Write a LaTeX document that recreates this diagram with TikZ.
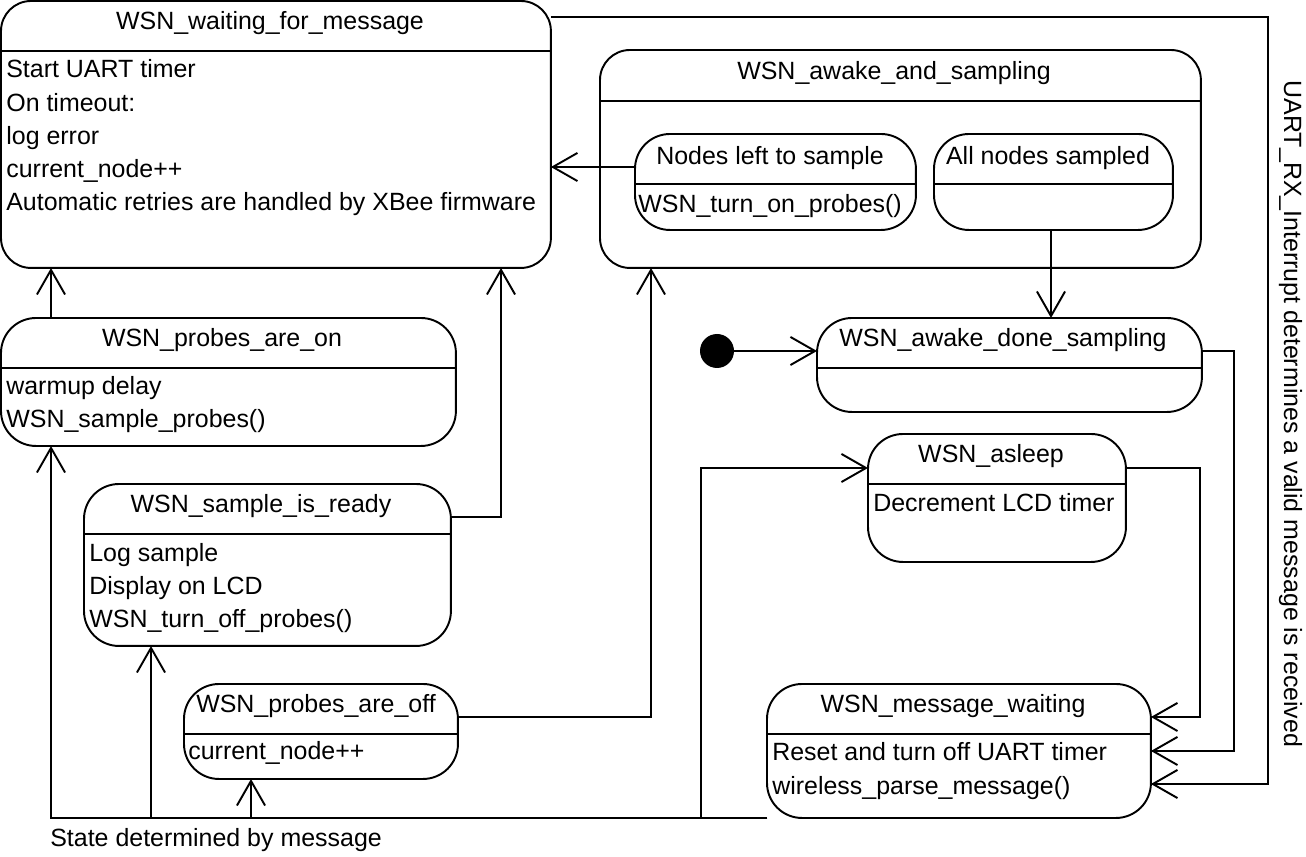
\documentclass[tikz,border=0pt]{standalone}
\usepackage{fontspec}
\setmainfont{Liberation Sans}
\usetikzlibrary{arrows.meta}
\tikzset{
  box/.style={draw, line width=1.1pt, rounded corners=0.7cm, anchor=north west, inner sep=0pt, outer sep=0pt},
  bigbox/.style={box, rounded corners=0.6cm},
  ttl/.style={anchor=base, inner sep=0pt},
  txt/.style={anchor=base west, inner sep=0pt},
  sepline/.style={line width=1pt},
  arr/.style={line width=1.1pt, -{Straight Barb[length=14pt,width=16pt,line width=1.1pt]}},
}
\begin{document}
\begin{tikzpicture}[x=0.02cm, y=-0.02cm, font=\fontsize{14.2pt}{17pt}\selectfont]
\useasboundingbox (0,0) rectangle (1306,857);

% boxes
\node[bigbox, minimum width=11cm, minimum height=5.34cm] (w) at (1,1) {};
\node[bigbox, minimum width=12.02cm, minimum height=4.36cm] (as) at (600,50) {};
\node[box, minimum width=5.62cm, minimum height=1.92cm] (nl) at (635,134) {};
\node[box, minimum width=4.78cm, minimum height=1.92cm] (an) at (934,134) {};
\node[box, minimum width=7.7cm, minimum height=1.88cm] (ads) at (817,318) {};
\node[box, minimum width=5.16cm, minimum height=2.56cm] (sl) at (868,434) {};
\node[box, minimum width=7.68cm, minimum height=2.68cm] (mw) at (767,684) {};
\node[box, minimum width=9.1cm, minimum height=2.56cm] (pon) at (1,318) {};
\node[box, minimum width=7.34cm, minimum height=3.24cm] (sir) at (84,484) {};
\node[box, minimum width=5.48cm, minimum height=1.9cm] (poff) at (184,684) {};
\node[circle, fill=black, minimum size=0.68cm, inner sep=0pt] (dot) at (717,351) {};

% separators
\draw[sepline] (w.west |- 0,51) -- (w.east |- 0,51);
\draw[sepline] (as.west |- 0,101) -- (as.east |- 0,101);
\draw[sepline] (nl.west |- 0,184) -- (nl.east |- 0,184);
\draw[sepline] (an.west |- 0,184) -- (an.east |- 0,184);
\draw[sepline] (ads.west |- 0,368) -- (ads.east |- 0,368);
\draw[sepline] (sl.west |- 0,484) -- (sl.east |- 0,484);
\draw[sepline] (mw.west |- 0,734) -- (mw.east |- 0,734);
\draw[sepline] (pon.west |- 0,368) -- (pon.east |- 0,368);
\draw[sepline] (sir.west |- 0,534) -- (sir.east |- 0,534);
\draw[sepline] (poff.west |- 0,734) -- (poff.east |- 0,734);

% titles
\node[ttl] (wt) at (270,30) {WSN\_waiting\_for\_message};
\node[ttl] (ast) at (894,80) {WSN\_awake\_and\_sampling};
\node[ttl] (nlt) at (770,165) {Nodes left to sample};
\node[ttl] (ant) at (1048,165) {All nodes sampled};
\node[ttl] (adst) at (1003,347) {WSN\_awake\_done\_sampling};
\node[ttl] (slt) at (991,463) {WSN\_asleep};
\node[ttl] (mwt) at (953,713) {WSN\_message\_waiting};
\node[ttl] (pont) at (222,347) {WSN\_probes\_are\_on};
\node[ttl] (sirt) at (261,513) {WSN\_sample\_is\_ready};
\node[ttl] (pofft) at (316,713) {WSN\_probes\_are\_off};

% body texts
\node[txt] (w1) at (6,78) {Start UART timer};
\node[txt] (w2) at (6,112) {On timeout:};
\node[txt] (w3) at (6,145) {log error};
\node[txt] (w4) at (6,178) {current\_node++};
\node[txt] (w5) at (6,211) {Automatic retries are handled by XBee firmware};
\node[txt] (nl1) at (638,213) {WSN\_turn\_on\_probes()};
\node[txt] (sl1) at (873,512) {Decrement LCD timer};
\node[txt] (mw1) at (772,761) {Reset and turn off UART timer};
\node[txt] (mw2) at (772,795) {wireless\_parse\_message()};
\node[txt] (pon1) at (6,395) {warmup delay};
\node[txt] (pon2) at (6,428) {WSN\_sample\_probes()};
\node[txt] (sir1) at (89,562) {Log sample};
\node[txt] (sir2) at (89,595) {Display on LCD};
\node[txt] (sir3) at (89,628) {WSN\_turn\_off\_probes()};
\node[txt] (poff1) at (188,760) {current\_node++};

% labels
\node[txt] (lbl) at (50,847) {State determined by message};
\node[rotate=-90, anchor=base, inner sep=0pt] (uart) at (1284,414) {UART\_RX\_Interrupt determines a valid message is received};

% connectors
\draw[arr] (pon.north -| 51,0) -- (w.south -| 51,0);
\draw[arr] (sir.east |- 0,517) -| (w.south -| 501,0);
\draw[arr] (poff.east |- 0,717) -| (as.south -| 651,0);
\draw[arr] (nl.west |- 0,167) -- (w.east |- 0,167);
\draw[arr] (an.south -| 1051,0) -- (ads.north -| 1051,0);
\draw[arr] (dot) -- (ads.west |- dot);
\draw[arr] (ads.east |- 0,351) -- (1234,351) |- (mw.east |- 0,751);
\draw[arr] (sl.east |- 0,468) -- (1200,468) |- (mw.east |- 0,717);
\draw[arr] (w.east |- 0,17) -- (1268,17) |- (mw.east |- 0,784);

% bus from WSN_message_waiting
\draw[arr] (mw.west |- 0,818) -| (pon.south -| 51,0);
\draw[arr] (mw.west |- 0,818) -| (sir.south -| 151,0);
\draw[arr] (mw.west |- 0,818) -| (poff.south -| 251,0);
\draw[arr] (mw.west |- 0,818) -| (701,468) -- (sl.west |- 0,468);
\end{tikzpicture}
\end{document}
